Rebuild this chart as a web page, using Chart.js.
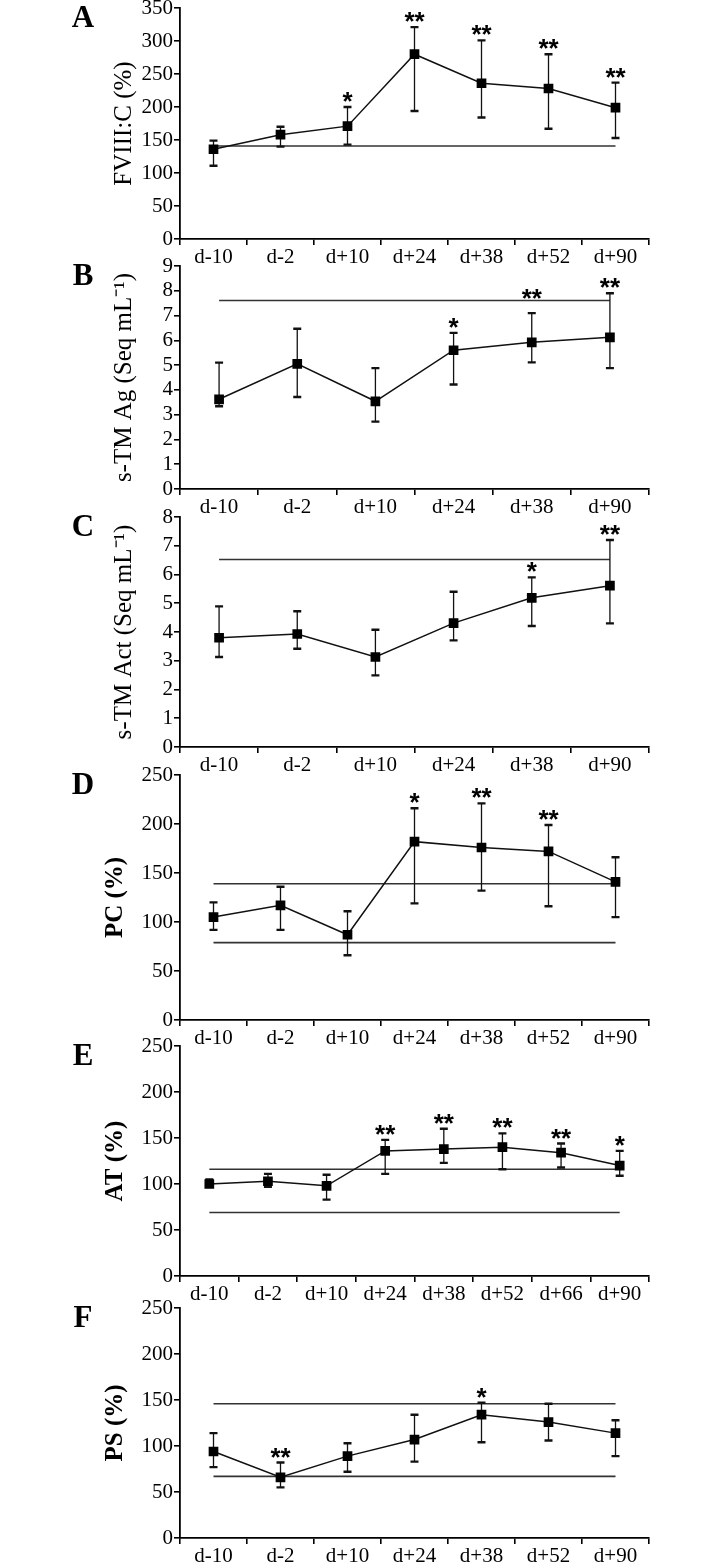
<!DOCTYPE html>
<html lang="en">
<head>
  <meta charset="UTF-8" />
  <title>Coagulation markers over time</title>
  <script src="https://cdn.jsdelivr.net/npm/chart.js"></script>
  <style>
    body {
      margin: 0;
      background: #fff;
      width: 715px;
      height: 1565px;
      position: relative;
      overflow: hidden;
    }
    canvas {
      position: absolute;
      left: 0;
    }
    .letter {
      position: absolute;
      left: 83px;
      transform: translate(-50%, -50%);
      font: bold 31px "Liberation Serif", serif;
      color: #000;
    }
  </style>
</head>
<body>
  <div id="wrap"></div>

  <script>
    // time points
    const labels7 = ['d-10', 'd-2', 'd+10', 'd+24', 'd+38', 'd+52', 'd+90'];
    const labels6 = ['d-10', 'd-2', 'd+10', 'd+24', 'd+38', 'd+90'];
    const labels8 = ['d-10', 'd-2', 'd+10', 'd+24', 'd+38', 'd+52', 'd+66', 'd+90'];

    // A - FVIII:C
    const fviiiMean = [136, 158, 171, 280, 236, 228, 199];
    const fviiiUpper = [149, 170, 200, 321, 301, 280, 237];
    const fviiiLower = [111, 140, 143, 194, 184, 167, 153];
    const fviiiRef = [141];
    const fviiiStars = ['', '', '*', '**', '**', '**', '**'];

    // B - s-TM Ag
    const tmAgMean = [3.62, 5.05, 3.54, 5.60, 5.92, 6.12];
    const tmAgUpper = [5.10, 6.47, 4.88, 6.30, 7.10, 7.90];
    const tmAgLower = [3.34, 3.71, 2.72, 4.22, 5.11, 4.88];
    const tmAgRef = [7.61];
    const tmAgStars = ['', '', '', '*', '**', '**'];

    // C - s-TM Act
    const tmActMean = [3.80, 3.93, 3.13, 4.31, 5.19, 5.61];
    const tmActUpper = [4.89, 4.72, 4.08, 5.40, 5.90, 7.20];
    const tmActLower = [3.13, 3.42, 2.49, 3.71, 4.21, 4.30];
    const tmActRef = [6.52];
    const tmActStars = ['', '', '', '', '*', '**'];

    // D - PC
    const pcMean = [105, 117, 87, 182, 176, 172, 141];
    const pcUpper = [120, 136, 111, 216, 221, 199, 166];
    const pcLower = [92, 92, 66, 119, 132, 116, 105];
    const pcRef = [139, 79];
    const pcStars = ['', '', '', '*', '**', '**', ''];

    // E - AT
    const atMean = [100, 103, 98, 136, 138, 140, 134, 120];
    const atUpper = [105, 111, 110, 148, 160, 155, 144, 136];
    const atLower = [97, 97, 83, 111, 123, 116, 118, 109];
    const atRef = [116, 69];
    const atStars = ['', '', '', '**', '**', '**', '**', '*'];

    // F - PS
    const psMean = [94, 66, 89, 107, 134, 126, 114];
    const psUpper = [114, 82, 103, 134, 147, 146, 128];
    const psLower = [77, 55, 72, 83, 104, 106, 89];
    const psRef = [146, 67];
    const psStars = ['', '**', '', '', '*', '', ''];

    const serif = '"Liberation Serif", "Times New Roman", serif';

    // top = pixel of axis max, zero = pixel of axis 0
    const panels = [
      { letter: 'A', labels: labels7, mean: fviiiMean, upper: fviiiUpper, lower: fviiiLower, refs: fviiiRef, stars: fviiiStars,
        title: 'FVIII:C (%)', max: 350, step: 50, top: 8, zero: 239, bold: false },
      { letter: 'B', labels: labels6, mean: tmAgMean, upper: tmAgUpper, lower: tmAgLower, refs: tmAgRef, stars: tmAgStars,
        title: 's-TM Ag (Seq mL\u207B\u00B9)', max: 9, step: 1, top: 266, zero: 489, bold: false, lift: { 4: 9 } },
      { letter: 'C', labels: labels6, mean: tmActMean, upper: tmActUpper, lower: tmActLower, refs: tmActRef, stars: tmActStars,
        title: 's-TM Act (Seq mL\u207B\u00B9)', max: 8, step: 1, top: 517, zero: 747, bold: false },
      { letter: 'D', labels: labels7, mean: pcMean, upper: pcUpper, lower: pcLower, refs: pcRef, stars: pcStars,
        title: 'PC (%)', max: 250, step: 50, top: 775, zero: 1020, bold: true },
      { letter: 'E', labels: labels8, mean: atMean, upper: atUpper, lower: atLower, refs: atRef, stars: atStars,
        title: 'AT (%)', max: 250, step: 50, top: 1046, zero: 1276, bold: true },
      { letter: 'F', labels: labels7, mean: psMean, upper: psUpper, lower: psLower, refs: psRef, stars: psStars,
        title: 'PS (%)', max: 250, step: 50, top: 1308, zero: 1538, bold: true }
    ];

    const PAD_TOP = 20;
    const X_AXIS_H = 32;
    const PAD_LEFT = 96;
    const AXIS_X = 180;
    const AXIS_RIGHT = 649;

    // reference lines, error bars and significance stars
    function makeExtras(p) {
      return {
        id: 'extras' + p.letter,
        beforeDatasetsDraw(chart) {
          const { ctx, scales: { x, y } } = chart;
          ctx.save();
          ctx.strokeStyle = '#333';
          ctx.lineWidth = 1.6;
          p.refs.forEach(v => {
            const py = y.getPixelForValue(v);
            ctx.beginPath();
            ctx.moveTo(x.getPixelForValue(0), py);
            ctx.lineTo(x.getPixelForValue(p.labels.length - 1), py);
            ctx.stroke();
          });
          ctx.strokeStyle = '#111';
          p.upper.forEach((u, i) => {
            const px = x.getPixelForValue(i);
            const pu = y.getPixelForValue(u);
            const pl = y.getPixelForValue(p.lower[i]);
            ctx.lineWidth = 1.3;
            ctx.beginPath();
            ctx.moveTo(px, pu); ctx.lineTo(px, pl);
            ctx.stroke();
            // caps are drawn heavier, like the original
            ctx.lineWidth = 2.4;
            ctx.beginPath();
            ctx.moveTo(px - 4, pu); ctx.lineTo(px + 4, pu);
            ctx.moveTo(px - 4, pl); ctx.lineTo(px + 4, pl);
            ctx.stroke();
          });
          ctx.restore();
        },
        afterDatasetsDraw(chart) {
          const { ctx, scales: { x, y } } = chart;
          ctx.save();
          ctx.fillStyle = '#000';
          ctx.font = 'bold 26px "Liberation Sans", Arial, sans-serif';
          ctx.textAlign = 'center';
          ctx.textBaseline = 'alphabetic';
          p.stars.forEach((s, i) => {
            if (!s) return;
            const m = ctx.measureText(s);
            const mid = (m.actualBoundingBoxAscent - m.actualBoundingBoxDescent) / 2;
            const extra = (p.lift && p.lift[i]) || 0;
            const cy = y.getPixelForValue(p.upper[i]) - 10 - extra;
            ctx.fillText(s, x.getPixelForValue(i), cy + mid);
          });
          ctx.restore();
        }
      };
    }

    const wrap = document.getElementById('wrap');

    panels.forEach(p => {
      const canvas = document.createElement('canvas');
      canvas.width = 715;
      canvas.height = (p.zero - p.top) + PAD_TOP + X_AXIS_H;
      canvas.style.top = (p.top - PAD_TOP) + 'px';
      wrap.appendChild(canvas);

      const letter = document.createElement('div');
      letter.className = 'letter';
      letter.style.top = (p.top + 9) + 'px';
      letter.textContent = p.letter;
      wrap.appendChild(letter);

      new Chart(canvas, {
        type: 'line',
        data: {
          labels: p.labels,
          datasets: [{
            data: p.mean,
            borderColor: '#111',
            borderWidth: 1.5,
            pointStyle: 'rect',
            pointRadius: 5.8,
            pointBackgroundColor: '#000',
            pointBorderColor: '#000',
            tension: 0
          }]
        },
        options: {
          responsive: false,
          animation: false,
          layout: { padding: { top: PAD_TOP, left: PAD_LEFT, right: 715 - AXIS_RIGHT, bottom: 0 } },
          plugins: { legend: { display: false }, tooltip: { enabled: false } },
          scales: {
            x: {
              type: 'category',
              offset: true,
              grid: { offset: true, drawOnChartArea: false, drawTicks: true, tickLength: 6, color: '#000', lineWidth: 1.6 },
              border: { color: '#000', width: 1.8 },
              ticks: { autoSkip: false, maxRotation: 0, padding: 0, color: '#000', font: { family: serif, size: 21 } },
              afterFit(scale) { scale.height = X_AXIS_H; }
            },
            y: {
              min: 0,
              max: p.max,
              grid: { drawOnChartArea: false, drawTicks: true, tickLength: 6, color: '#000', lineWidth: 1.6 },
              border: { color: '#000', width: 1.8 },
              ticks: { stepSize: p.step, autoSkip: false, padding: 1, color: '#000', font: { family: serif, size: 21 } },
              title: {
                display: true,
                text: p.title,
                color: '#000',
                font: { family: serif, size: 25, weight: p.bold ? 'bold' : 'normal' },
                padding: { top: p.bold ? 5 : 13, bottom: 0 }
              },
              afterFit(scale) { scale.width = AXIS_X - PAD_LEFT; }
            }
          }
        },
        plugins: [makeExtras(p)]
      });
    });
  </script>
</body>
</html>
